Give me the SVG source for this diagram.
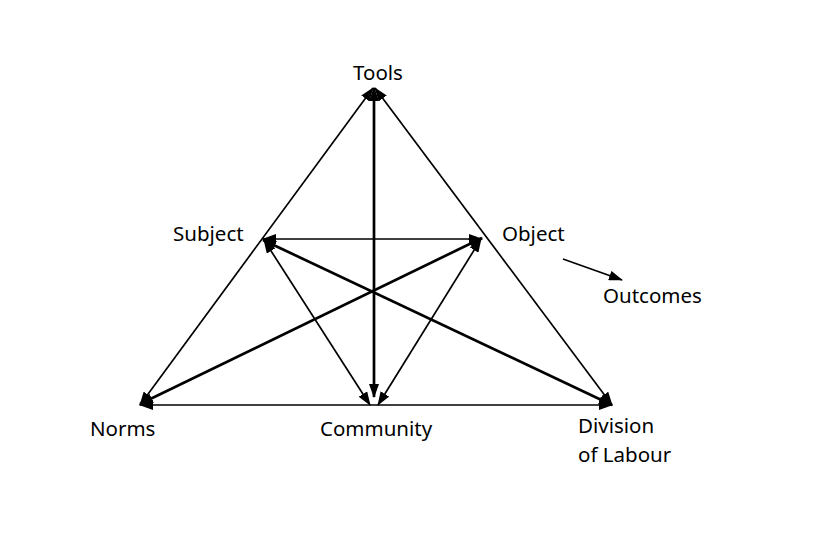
<svg xmlns="http://www.w3.org/2000/svg" width="820" height="544" viewBox="0 0 820 544">
<style>
.lbl{font-family:"Noto Sans","Liberation Sans",sans-serif;font-size:20.5px;fill:#000}
.thin{stroke:#000;stroke-width:1.7;fill:none}
.thick{stroke:#000;stroke-width:2.7;fill:none}
</style>
<defs>
<marker id="ah" viewBox="0 0 14 10" refX="13" refY="5" markerWidth="14" markerHeight="10" markerUnits="userSpaceOnUse" orient="auto-start-reverse">
<path d="M0,0 L14,5 L0,10 Z" fill="#000"/>
</marker>
</defs>
<rect width="820" height="544" fill="#fff"/>
<g id="connectors">
<line class="thin" x1="373" y1="88" x2="140" y2="405" marker-start="url(#ah)" marker-end="url(#ah)"/>
<line class="thin" x1="375" y1="88" x2="612" y2="405" marker-start="url(#ah)" marker-end="url(#ah)"/>
<line class="thick" x1="374" y1="88" x2="374" y2="397" marker-start="url(#ah)" marker-end="url(#ah)"/>
<line class="thin" x1="263" y1="239" x2="482" y2="239" marker-start="url(#ah)" marker-end="url(#ah)"/>
<line class="thick" x1="263" y1="240" x2="612" y2="405" marker-start="url(#ah)" marker-end="url(#ah)"/>
<line class="thick" x1="482" y1="238" x2="140" y2="404" marker-start="url(#ah)" marker-end="url(#ah)"/>
<line class="thin" x1="264" y1="240" x2="370" y2="405" marker-start="url(#ah)" marker-end="url(#ah)"/>
<line class="thin" x1="481" y1="239" x2="378" y2="405" marker-start="url(#ah)" marker-end="url(#ah)"/>
<line class="thin" x1="140" y1="405" x2="612" y2="405" marker-start="url(#ah)" marker-end="url(#ah)"/>
<line class="thin" x1="563" y1="259" x2="622" y2="280" marker-end="url(#ah)"/>
</g>
<g id="tools"><text class="lbl" x="378" y="80" text-anchor="middle">Tools</text></g>
<g id="subject"><text class="lbl" x="173" y="241">Subject</text></g>
<g id="object"><text class="lbl" x="502" y="241">Object</text></g>
<g id="outcomes"><text class="lbl" x="603" y="303">Outcomes</text></g>
<g id="norms"><text class="lbl" x="90" y="436">Norms</text></g>
<g id="community"><text class="lbl" x="320" y="436">Community</text></g>
<g id="division"><text class="lbl" x="578" y="433">Division</text><text class="lbl" x="578" y="462">of Labour</text></g>
</svg>
